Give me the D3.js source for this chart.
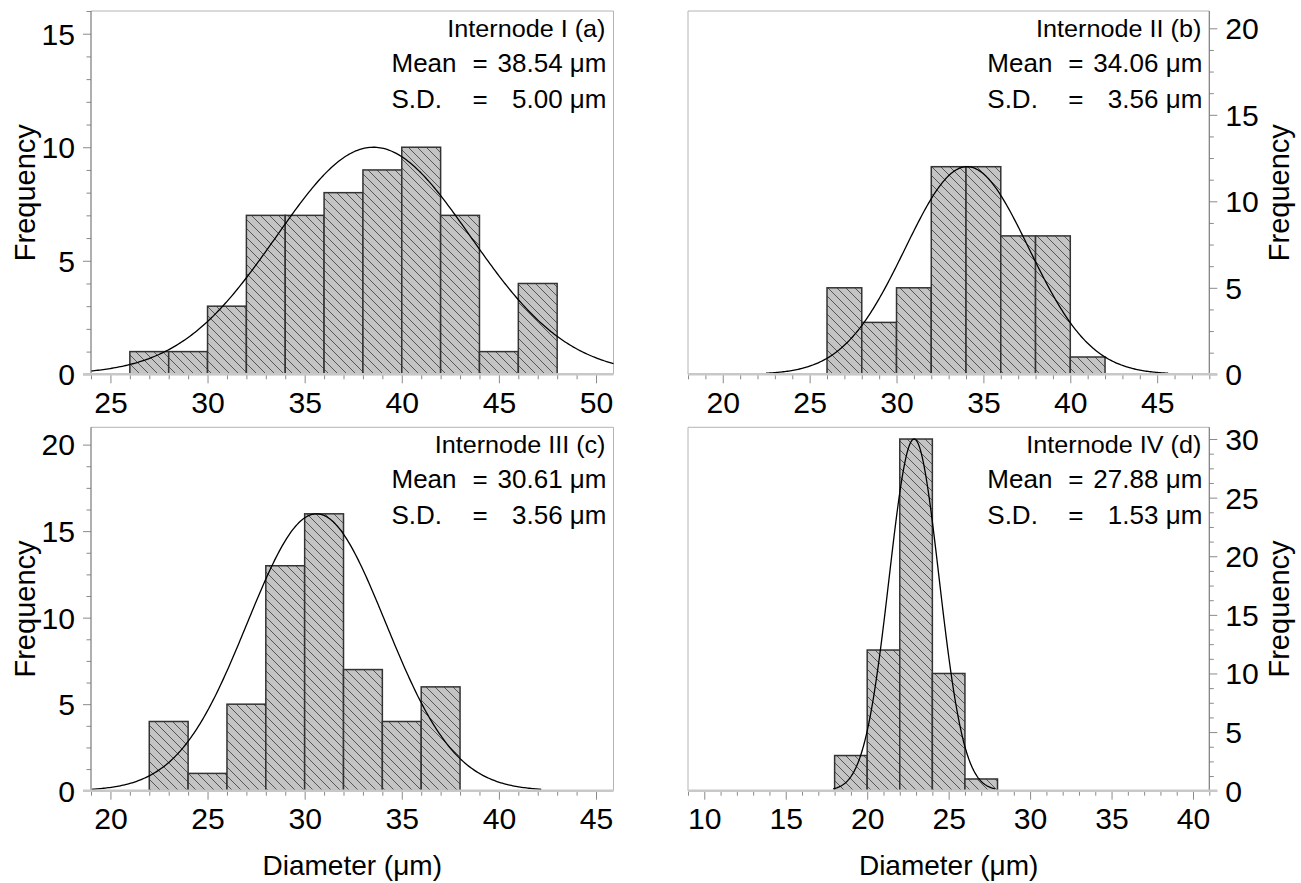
<!DOCTYPE html>
<html><head><meta charset="utf-8">
<script src="https://cdn.jsdelivr.net/npm/d3@7"></script>
<style>
body{margin:0;background:#fff}
svg{display:block}
text{font-family:"Liberation Sans",Arial,Helvetica,sans-serif;fill:#000}
</style>
</head><body>
<svg id="chart" width="1301" height="883"></svg>
<script>
// ---------------- DATA ----------------
const binEdgesA = [26,28,30,32,34,36,38,40,42,44,46,48];
const countsA   = [1,1,3,7,7,8,9,10,7,1,4];
const binEdgesB = [26,28,30,32,34,36,38,40,42];
const countsB   = [5,3,5,12,12,8,8,1];
const binEdgesC = [22,24,26,28,30,32,34,36,38];
const countsC   = [4,1,5,13,16,7,4,6];
const binEdgesD = [18,20,22,24,26,28];
const countsD   = [3,12,30,10,1];

const panelTitles = ["Internode I (a)","Internode II (b)","Internode III (c)","Internode IV (d)"];
const meanLabels  = ["38.54","34.06","30.61","27.88"];
const sdLabels    = ["5.00","3.56","3.56","1.53"];
// fitted normal curve parameters (curve D is drawn centred near 22.9)
const curveMeans  = [38.54,34.06,30.61,22.88];
const curveSDs    = [5.00,3.56,3.56,1.53];
const curvePeaks  = [10,12,16,30];

const xTicksA = [25,30,35,40,45,50];
const xTicksB = [20,25,30,35,40,45];
const xTicksC = [20,25,30,35,40,45];
const xTicksD = [10,15,20,25,30,35,40];
const yTicksA = [0,5,10,15];
const yTicksB = [0,5,10,15,20];
const yTicksC = [0,5,10,15,20];
const yTicksD = [0,5,10,15,20,25,30];

const xTitle = "Diameter (\u03bcm)";
const yTitle = "Frequency";

// ---------------- LAYOUT ----------------
const panels = [
  {edges:binEdgesA, counts:countsA, xt:xTicksA, yt:yTicksA, left:91,  right:613.5, top:11,    bottom:374.3, xd:[24,50.9], yd:[0,16], yMinor:1,    side:"left"},
  {edges:binEdgesB, counts:countsB, xt:xTicksB, yt:yTicksB, left:688, right:1209.3, top:11,   bottom:374.3, xd:[18,48],   yd:[0,21], yMinor:1.25, side:"right"},
  {edges:binEdgesC, counts:countsC, xt:xTicksC, yt:yTicksC, left:91,  right:613.5, top:427.3, bottom:790.7, xd:[19,45.9], yd:[0,21], yMinor:1.25, side:"left"},
  {edges:binEdgesD, counts:countsD, xt:xTicksD, yt:yTicksD, left:688, right:1209.3, top:427.3,bottom:790.7, xd:[9,41],    yd:[0,31], yMinor:1.25, side:"right"}
];

const svg = d3.select("#chart");
const defs = svg.append("defs");
const pat = defs.append("pattern").attr("id","hatch")
  .attr("patternUnits","userSpaceOnUse").attr("width",9).attr("height",9);
pat.append("rect").attr("width",9).attr("height",9).attr("fill","#c4c4c4");
pat.append("path").attr("d","M0,0L9,9M-1,8L1,10M8,-1L10,1")
  .attr("stroke","#4a4a4a").attr("stroke-width",0.9).attr("fill","none");

const TICK_FS = 29, TICK_SX = 1.04;
const TITLE_FS = 24, TITLE_SX = 1.05;
const ANN_FS = 26;
const AX_FS = 28, YT_FS = 29;

function addText(parent, x, y, str, fs, anchor, sx) {
  return parent.append("text")
    .attr("transform", `translate(${x},${y}) scale(${sx},1)`)
    .attr("text-anchor", anchor).style("font-size", fs + "px").text(str);
}

panels.forEach((p, i) => {
  const x = d3.scaleLinear().domain(p.xd).range([p.left, p.right]);
  const y = d3.scaleLinear().domain(p.yd).range([p.bottom, p.top]);
  const g = svg.append("g");

  // frame (light)
  g.append("line").attr("x1",p.left).attr("x2",p.right).attr("y1",p.top).attr("y2",p.top)
    .attr("stroke","#b4b4b4").attr("stroke-width",1);
  const otherX = p.side === "left" ? p.right : p.left;
  g.append("line").attr("x1",otherX).attr("x2",otherX).attr("y1",p.top).attr("y2",p.bottom)
    .attr("stroke","#b4b4b4").attr("stroke-width",1);

  // bars
  g.selectAll("rect.bar").data(p.counts).join("rect").attr("class","bar")
    .attr("x", (d,k) => x(p.edges[k]))
    .attr("width", (d,k) => x(p.edges[k+1]) - x(p.edges[k]))
    .attr("y", d => y(d))
    .attr("height", d => y(0) - y(d))
    .attr("fill","url(#hatch)").attr("stroke","#333").attr("stroke-width",1.5);

  // fitted normal curve
  const m = curveMeans[i], s = curveSDs[i], pk = curvePeaks[i];
  const lo = Math.max(p.xd[0], m - 3.25*s), hi = Math.min(p.xd[1], m + 3.25*s);
  const pts = d3.range(0, 301).map(k => {
    const xv = lo + (hi - lo) * k / 300;
    return [xv, pk * Math.exp(-0.5 * ((xv - m) / s) ** 2)];
  });
  g.append("path").datum(pts)
    .attr("d", d3.line().x(d => x(d[0])).y(d => y(d[1])))
    .attr("fill","none").attr("stroke","#000").attr("stroke-width",1.3);

  // x axis ticks
  const xMinor = d3.range(Math.ceil(p.xd[0]), Math.floor(p.xd[1]) + 1).filter(v => !p.xt.includes(v));
  const gxm = g.append("g").attr("transform",`translate(0,${p.bottom})`)
    .call(d3.axisBottom(x).tickValues(xMinor).tickSize(5).tickFormat("").tickSizeOuter(0));
  const gx = g.append("g").attr("transform",`translate(0,${p.bottom})`)
    .call(d3.axisBottom(x).tickValues(p.xt).tickSize(9).tickSizeOuter(0).tickFormat(d3.format("d")));
  [gxm, gx].forEach(a => { a.select(".domain").remove(); a.selectAll(".tick line").attr("stroke","#8a8a8a"); });
  gx.selectAll(".tick text").attr("y", 0).attr("dy", 0)
    .attr("transform", `translate(0,38.5) scale(${TICK_SX},1)`)
    .style("font-size", TICK_FS + "px").attr("fill","#000");

  // y axis ticks
  const nMinor = Math.round((p.yd[1] - p.yd[0]) / p.yMinor);
  const yMinor = d3.range(0, nMinor + 1).map(k => +(k * p.yMinor).toFixed(3))
    .filter(v => v <= p.yd[1] && !p.yt.includes(v));
  const axisFn = p.side === "left" ? d3.axisLeft : d3.axisRight;
  const ax = p.side === "left" ? p.left : p.right;
  const gym = g.append("g").attr("transform",`translate(${ax},0)`)
    .call(axisFn(y).tickValues(yMinor).tickSize(4.5).tickFormat("").tickSizeOuter(0));
  const gy = g.append("g").attr("transform",`translate(${ax},0)`)
    .call(axisFn(y).tickValues(p.yt).tickSize(8).tickSizeOuter(0).tickFormat(d3.format("d")));
  [gym, gy].forEach(a => { a.select(".domain").remove(); a.selectAll(".tick line").attr("stroke","#8a8a8a"); });
  gy.selectAll(".tick text")
    .attr("x", 0).attr("dy","0.358em")
    .attr("transform", `translate(${p.side === "left" ? -16 : 16},0) scale(${TICK_SX},1)`)
    .style("font-size", TICK_FS + "px").attr("fill","#000");

  // axis lines
  g.append("line").attr("x1",ax).attr("x2",ax).attr("y1",p.top).attr("y2",p.bottom)
    .attr("stroke","#7a7a7a").attr("stroke-width",1.2);
  const xa1 = p.side === "left" ? p.left - 8 : p.left;
  const xa2 = p.side === "left" ? p.right : p.right + 8;
  g.append("line").attr("x1",xa1).attr("x2",xa2).attr("y1",p.bottom).attr("y2",p.bottom)
    .attr("stroke","#c8c8c8").attr("stroke-width",2.5);

  // annotations
  const r = p.right;
  const tY = p.top + 26, mY = p.top + 61, sY = p.top + 97;
  addText(g, r - 8, tY, panelTitles[i], TITLE_FS, "end", TITLE_SX);
  [["Mean", meanLabels[i], mY], ["S.D.", sdLabels[i], sY]].forEach(([lab, val, yy]) => {
    addText(g, r - 222, yy, lab, ANN_FS, "start", 1);
    addText(g, r - 141, yy, "=", ANN_FS, "start", 1);
    addText(g, r - 7, yy, val + " \u03bcm", ANN_FS, "end", 1);
  });

  // y title
  const yc = (p.top + p.bottom) / 2;
  const tx = p.side === "left" ? 35 : 1289;
  svg.append("text").attr("transform",`translate(${tx},${yc}) rotate(-90)`)
    .attr("text-anchor","middle").style("font-size",YT_FS+"px").text(yTitle);

  // x title (bottom row)
  if (i >= 2) {
    svg.append("text").attr("x",(p.left + p.right)/2).attr("y",875)
      .attr("text-anchor","middle").style("font-size",AX_FS+"px").text(xTitle);
  }
});
</script>
</body></html>
